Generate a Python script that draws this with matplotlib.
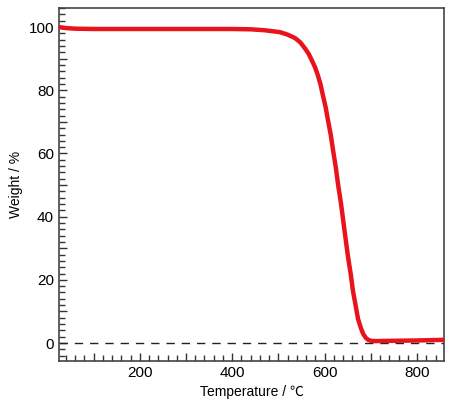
import matplotlib
matplotlib.use("Agg")
import matplotlib.pyplot as plt
from matplotlib.ticker import MultipleLocator, FuncFormatter

plt.rcParams['font.family'] = ['Liberation Sans', 'Noto Sans CJK JP', 'DejaVu Sans']

# TGA curve
temperature = [25, 40, 60, 100, 200, 300, 400, 440, 470, 503, 520, 536, 547, 557, 565,
               572, 579, 585, 591, 596, 602, 607, 613, 618, 624, 629, 635, 640, 645,
               650, 656, 661, 667, 672, 678, 683, 689, 694, 700, 709, 750, 800, 858]
weight = [100.0, 99.7, 99.5, 99.4, 99.4, 99.4, 99.4, 99.3, 99.0, 98.4, 97.6, 96.5, 95.2,
          93.3, 91.6, 89.5, 87.3, 84.8, 81.8, 78.4, 74.6, 70.5, 65.9, 61.0, 55.5, 50.0,
          44.3, 38.7, 33.1, 27.6, 22.0, 16.5, 11.7, 7.6, 4.8, 2.9, 1.6, 1.0, 0.7, 0.6,
          0.7, 0.8, 1.0]

fig = plt.figure(figsize=(4.49, 4.07), dpi=100)
ax = fig.add_axes([0.131, 0.113, 0.858, 0.867])

ax.plot(temperature, weight, color='#e8131b', lw=3.2, solid_capstyle='butt', zorder=3)
ax.axhline(0, color='#222222', lw=1.0, ls=(0, (6, 5)), zorder=2)

ax.set_xlim(25, 858)
ax.set_ylim(-5.7, 106)

# major every 100 / 10, labels only on 200 / 20
ax.xaxis.set_major_locator(MultipleLocator(100))
ax.xaxis.set_minor_locator(MultipleLocator(20))
ax.xaxis.set_major_formatter(FuncFormatter(lambda v, p: f"{v:.0f}" if v % 200 == 0 else ""))
ax.yaxis.set_major_locator(MultipleLocator(10))
ax.yaxis.set_minor_locator(MultipleLocator(2))
ax.yaxis.set_major_formatter(FuncFormatter(lambda v, p: f"{v:.0f}" if v % 20 == 0 else ""))

ax.tick_params(which='both', direction='in', color='#333333', width=1.0, labelsize=11,
               top=False, right=False)
ax.tick_params(which='major', length=6)
ax.tick_params(which='minor', length=4)
for s in ax.spines.values():
    s.set_color('#444444')
    s.set_linewidth(1.2)

ax.set_xlabel('Temperature / ℃', fontsize=10)
ax.set_ylabel('Weight / %', fontsize=10)

fig.savefig('out.png', dpi=100)
